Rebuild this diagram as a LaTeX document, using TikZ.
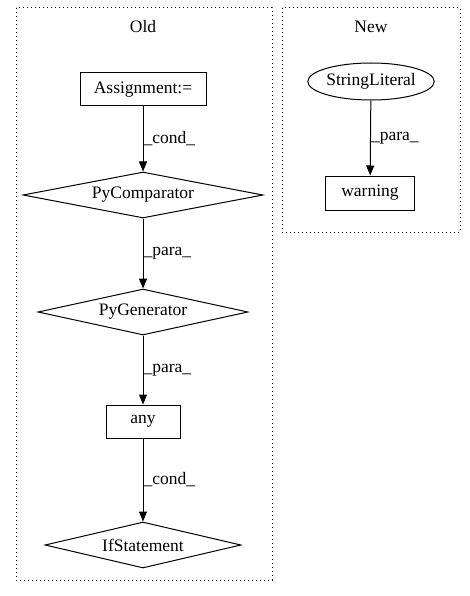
\documentclass[tikz,border=0pt]{standalone}
\usepackage{fontspec}
\setmainfont{Liberation Serif}
\usetikzlibrary{shapes.geometric,arrows.meta}
\begin{document}
\begin{tikzpicture}[x=1pt,y=-1pt,
  every node/.style={font=\fontsize{17.5}{20}\selectfont},
  box/.style={draw,rectangle,minimum height=33pt,inner sep=0pt,line width=1pt},
  dia/.style={draw,diamond,aspect=5.2,inner sep=0pt,line width=1pt},
  ell/.style={draw,ellipse,minimum width=118pt,minimum height=37pt,inner sep=0pt,line width=1pt},
  cluster/.style={draw,dash pattern=on 1.2pt off 2.8pt,line width=1pt},
  edge/.style={-{Triangle[length=10pt,width=8pt]},line width=1pt},
  lab/.style={font=\fontsize{17.5}{20}\selectfont,anchor=west,inner sep=0pt}]
\useasboundingbox (0,0) rectangle (469,596);
\draw[cluster] (16,8) rectangle (272,580);
\draw[cluster] (282,8) rectangle (460,232);
\node (old) at (143,27) {Old};
\node (new) at (371,27) {New};
\node[box,minimum width=126pt] (assign) at (143,89.5) {Assignment:=};
\node[dia,minimum width=240pt,minimum height=46pt] (cmp) at (143,195) {PyComparator};
\node[dia,minimum width=210pt,minimum height=46pt] (gen) at (143,312) {PyGenerator};
\node[box,minimum width=74pt] (any) at (143,421.5) {any};
\node[dia,minimum width=196pt,minimum height=46pt] (ifs) at (143,545) {IfStatement};
\node[ell] (str) at (371,81.5) {StringLiteral};
\node[box,minimum width=89pt,minimum height=34pt] (warn) at (370,193) {warning};
\draw[edge] (assign) -- (cmp.north) node[lab,midway] {\_cond\_};
\draw[edge] (cmp.south) -- (gen.north) node[lab,midway] {\_para\_};
\draw[edge] (gen.south) -- (any) node[lab,midway] {\_para\_};
\draw[edge] (any) -- (ifs.north) node[lab,midway] {\_cond\_};
\draw[edge] (str) -- (warn) node[lab,midway] {\_para\_};
\end{tikzpicture}
\end{document}
